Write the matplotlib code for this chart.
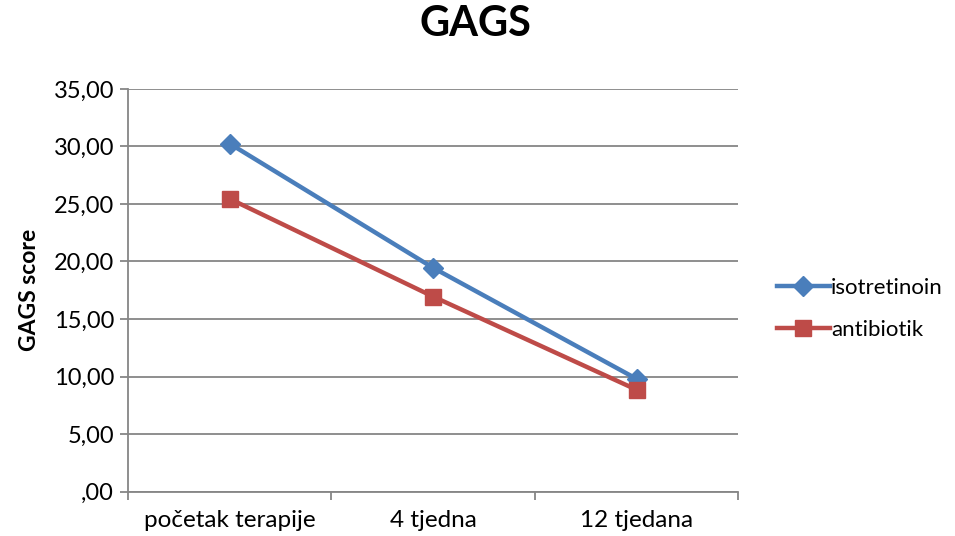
import matplotlib.pyplot as plt
from matplotlib.ticker import FuncFormatter

categories = ['početak terapije', '4 tjedna', '12 tjedana']
isotretinoin = [30.25, 19.45, 9.8]
antibiotik = [25.45, 16.95, 8.85]
y_ticks = [0, 5, 10, 15, 20, 25, 30, 35]

plt.rcParams['font.family'] = ['Lato', 'DejaVu Sans']

fig = plt.figure(figsize=(9.55, 5.36), dpi=100)
ax = fig.add_axes([0.134, 0.083, 0.639, 0.751])

x = range(len(categories))
ax.plot(x, isotretinoin, color='#4A7EBB', lw=3.2, marker='D', ms=10,
        label='isotretinoin', zorder=3)
ax.plot(x, antibiotik, color='#BE4B48', lw=3.2, marker='s', ms=12,
        label='antibiotik', zorder=3)

ax.set_xlim(-0.5, 2.5)
ax.set_ylim(0, 35)
ax.set_yticks(y_ticks)


def fmt(v, pos):
    s = '%.2f' % v
    s = s.replace('.', ',')
    if s.startswith('0,'):
        s = s[1:]
    return s


ax.yaxis.set_major_formatter(FuncFormatter(fmt))
ax.set_xticks([0, 1, 2])
ax.set_xticklabels(categories)
ax.set_xticks([-0.5, 0.5, 1.5, 2.5], minor=True)
ax.tick_params(axis='x', which='major', length=0, labelsize=17.5, pad=13)
ax.tick_params(axis='x', which='minor', length=6, color='#868686', width=1.3)
ax.tick_params(axis='y', length=6, color='#868686', width=1.3, labelsize=17, pad=4)

ax.grid(axis='y', color='#868686', lw=1.3)
ax.set_axisbelow(True)
for s in ['top', 'right']:
    ax.spines[s].set_visible(False)
for s in ['left', 'bottom']:
    ax.spines[s].set_color('#868686')
    ax.spines[s].set_linewidth(1.3)

ax.set_ylabel('GAGS score', fontsize=16.5, fontweight='bold', labelpad=10)
fig.suptitle('GAGS', fontsize=30, fontweight='bold', x=0.498, y=0.99)

ax.legend(loc='center left', bbox_to_anchor=(1.03, 0.453), frameon=False,
          fontsize=16, handlelength=2.4, handletextpad=0.05, labelspacing=1.0)

fig.savefig('out.png', dpi=100)
